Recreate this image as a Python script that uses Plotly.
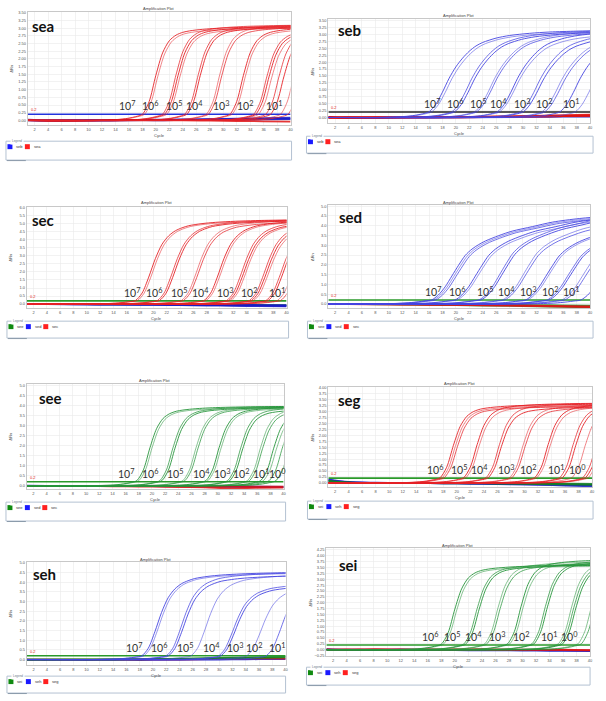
import plotly.graph_objects as go

W, H = 606, 701

# ---------------- data ----------------
CYCLE_RANGE = [1, 40]
THRESHOLD = 0.2

# normalised amplification shape (value / plateau) at cycle offsets from threshold crossing
PROFILE_OFFSETS = [-8, -6, -4, -3, -2, -1, 0, 1, 2, 3, 4, 5, 6, 7, 8, 10, 12, 15, 18, 22, 26, 30]
PROFILE_STEEP = [0.0, 0.003, 0.008, 0.014, 0.024, 0.04, 0.065, 0.2, 0.48, 0.72, 0.85, 0.91, 0.94, 0.955, 0.965, 0.978, 0.986, 0.993, 0.997, 1.0, 1.0, 1.0]
PROFILE_MEDIUM = [0.0, 0.003, 0.007, 0.011, 0.018, 0.028, 0.042, 0.13, 0.32, 0.54, 0.71, 0.81, 0.87, 0.905, 0.93, 0.955, 0.97, 0.983, 0.991, 0.997, 1.0, 1.0]
PROFILE_GENTLE = [0.0, 0.004, 0.01, 0.016, 0.026, 0.042, 0.065, 0.15, 0.29, 0.45, 0.58, 0.68, 0.76, 0.82, 0.86, 0.91, 0.94, 0.965, 0.98, 0.99, 0.997, 1.0]
PROFILE_SHALLOW = [0.0, 0.004, 0.01, 0.016, 0.024, 0.034, 0.045, 0.1, 0.19, 0.31, 0.43, 0.54, 0.61, 0.66, 0.7, 0.76, 0.81, 0.86, 0.91, 0.95, 0.975, 0.99]

NEG_CYCLES = [1, 4, 8, 12, 16, 20, 24, 28, 32, 36, 40]

# sea
SEA_CT = [18.0, 18.3, 21.0, 21.3, 21.6, 24.3, 24.6, 27.5, 27.8, 31.0, 31.3, 34.5, 34.8, 35.2, 36.3, 37.0, 38.5, 39.6]
SEA_PLAT = [3.05, 3.0, 3.1, 3.05, 3.0, 3.1, 3.05, 3.12, 3.05, 3.05, 3.0, 3.0, 2.95, 2.9, 3.0, 2.95, 3.0, 3.0]
SEA_LABELS = ["10<sup>7</sup>", "10<sup>6</sup>", "10<sup>5</sup>", "10<sup>4</sup>", "10<sup>3</sup>", "10<sup>2</sup>", "10<sup>1</sup>"]
SEA_LABEL_X = [15.7, 19.1, 22.7, 25.8, 29.7, 33.3, 37.5]
SEA_LEGEND = ["seb", "sea"]
SEA_NEG_SEB = [[0.02, 0.0, 0.01, 0.0, 0.01, 0.02, 0.03, 0.04, 0.06, 0.07, 0.09],
               [0.0, -0.01, 0.0, 0.0, 0.0, 0.01, 0.02, 0.03, 0.04, 0.05, 0.06],
               [0.01, 0.0, -0.01, 0.0, 0.01, 0.0, 0.01, 0.02, 0.02, 0.03, 0.04]]
SEA_NEG_SEA = [[0.0, -0.02, -0.02, -0.01, 0.0, 0.0, 0.0, -0.01, -0.02, -0.03, -0.04]]

# seb
SEB_CT = [16.0, 16.4, 19.4, 19.8, 22.8, 23.1, 26.2, 26.5, 29.6, 30.0, 32.8, 33.2, 35.5, 37.8]
SEB_PLAT = [3.15, 3.1, 3.15, 3.1, 3.15, 3.1, 3.15, 3.05, 3.1, 3.0, 3.05, 3.0, 3.1, 3.1]
SEB_LABELS = SEA_LABELS
SEB_LABEL_X = [16.4, 19.8, 23.3, 26.3, 29.8, 33.1, 37.1]
SEB_LEGEND = ["seb", "sea"]
SEB_NEG_SEB = [[0.0, 0.01, 0.0, 0.01, 0.0, 0.01, 0.01, 0.02, 0.02, 0.03, 0.03]]
SEB_NEG_SEA = [[0.0, 0.0, 0.0, 0.0, 0.01, 0.02, 0.03, 0.04, 0.05, 0.06, 0.08],
               [0.0, -0.01, 0.0, 0.01, 0.01, 0.02, 0.02, 0.03, 0.04, 0.05, 0.06],
               [0.01, 0.0, 0.0, 0.0, 0.0, 0.01, 0.02, 0.03, 0.06, 0.08, 0.1],
               [-0.01, 0.0, 0.0, 0.0, 0.01, 0.0, 0.01, 0.02, 0.03, 0.05, 0.07]]

# sec
SEC_CT = [17.3, 17.6, 20.6, 20.9, 24.2, 24.5, 27.6, 27.9, 31.0, 31.3, 31.6, 34.4, 34.7, 35.0, 36.9, 37.2, 38.6, 39.1]
SEC_PLAT = [5.25, 5.2, 5.25, 5.2, 5.25, 5.15, 5.25, 5.2, 5.25, 5.15, 5.1, 5.2, 5.1, 5.0, 5.2, 5.1, 5.2, 5.2]
SEC_LABELS = SEA_LABELS
SEC_LABEL_X = [16.8, 20.1, 23.9, 27.1, 30.8, 34.3, 38.5]
SEC_LEGEND = ["see", "sed", "sec"]
SEC_NEG_SED = [[0.0, 0.0, -0.02, -0.03, -0.04, -0.05, -0.07, -0.09, -0.11, -0.13, -0.15],
               [0.0, 0.0, -0.01, -0.02, -0.03, -0.04, -0.05, -0.06, -0.08, -0.1, -0.12],
               [0.0, 0.01, 0.0, -0.01, -0.02, -0.02, -0.03, -0.04, -0.05, -0.06, -0.07]]
SEC_NEG_SEE = [[0.0, 0.0, 0.0, -0.01, -0.01, -0.02, -0.02, -0.03, -0.04, -0.05, -0.06]]

# sed
SED_CT = [16.4, 16.7, 17.0, 19.9, 20.2, 23.5, 23.8, 27.0, 27.3, 30.4, 30.7, 33.6, 33.9, 35.8, 36.2, 38.6]
SED_PLAT = [4.6, 4.55, 4.5, 4.6, 4.5, 4.8, 4.7, 4.75, 4.6, 4.55, 4.5, 4.5, 4.45, 4.5, 4.4, 4.4]
SED_LABELS = SEA_LABELS
SED_LABEL_X = [16.6, 20.2, 24.3, 27.6, 30.7, 34.0, 37.2]
SED_LEGEND = ["see", "sed", "sec"]
SED_NEG_SEE = [[0.0, 0.0, -0.02, -0.03, -0.05, -0.06, -0.08, -0.1, -0.12, -0.15, -0.18],
               [0.0, 0.0, 0.0, -0.01, -0.02, -0.03, -0.04, -0.05, -0.06, -0.07, -0.09]]
SED_NEG_SEC = [[0.0, 0.0, -0.01, -0.02, -0.03, -0.04, -0.06, -0.07, -0.09, -0.11, -0.13],
               [0.0, -0.01, -0.02, -0.03, -0.04, -0.05, -0.07, -0.09, -0.11, -0.13, -0.16]]

# see
SEE_CT = [17.7, 18.0, 21.2, 21.5, 24.7, 25.0, 28.2, 28.5, 31.5, 31.8, 34.5, 34.8, 36.5, 36.9, 37.8, 38.8]
SEE_PLAT = [3.95, 3.9, 3.95, 3.9, 3.95, 3.9, 3.95, 3.9, 3.95, 3.85, 3.95, 3.85, 3.9, 3.8, 3.9, 3.8]
SEE_LABELS = SEA_LABELS + ["10<sup>0</sup>"]
SEE_LABEL_X = [16.1, 19.7, 23.5, 27.5, 30.6, 33.6, 36.5, 39.0]
SEE_LEGEND = ["see", "sed", "sec"]
SEE_NEG_SED = [[0.0, 0.0, -0.01, -0.01, -0.02, -0.02, -0.03, -0.04, -0.05, -0.06, -0.07],
               [0.01, 0.0, 0.0, -0.01, -0.01, -0.02, -0.02, -0.02, -0.03, -0.04, -0.05]]
SEE_NEG_SEC = [[0.0, 0.0, 0.0, -0.01, -0.01, -0.02, -0.02, -0.03, -0.03, -0.04, -0.04],
               [0.0, -0.01, -0.01, -0.02, -0.03, -0.04, -0.06, -0.08, -0.12, -0.1, -0.09]]

# seg
SEG_CT = [17.5, 17.8, 18.1, 21.0, 21.3, 24.3, 24.6, 27.8, 28.1, 31.5, 31.8, 35.2, 35.6, 37.0, 38.6, 39.0, 39.4]
SEG_PLAT = [3.3, 3.25, 3.2, 3.35, 3.25, 3.35, 3.2, 3.3, 3.2, 3.35, 3.25, 3.35, 3.3, 3.3, 3.3, 3.3, 3.3]
SEG_LABELS = ["10<sup>6</sup>", "10<sup>5</sup>", "10<sup>4</sup>", "10<sup>3</sup>", "10<sup>2</sup>", "10<sup>1</sup>", "10<sup>0</sup>"]
SEG_LABEL_X = [16.8, 20.3, 23.4, 27.2, 30.6, 34.7, 37.8]
SEG_LEGEND = ["sei", "seh", "seg"]
SEG_NEG_SEH = [[0.12, 0.03, 0.0, -0.01, -0.01, -0.02, -0.03, -0.04, -0.06, -0.08, -0.1],
               [0.15, 0.04, 0.01, 0.0, -0.01, -0.02, -0.04, -0.06, -0.08, -0.11, -0.14],
               [0.08, 0.02, 0.0, 0.0, -0.01, -0.01, -0.02, -0.03, -0.04, -0.05, -0.07]]
SEG_NEG_SEI = [[0.1, 0.02, 0.0, 0.0, 0.0, -0.01, -0.01, -0.02, -0.02, -0.03, -0.04],
               [0.06, 0.01, 0.0, -0.01, -0.01, -0.02, -0.02, -0.03, -0.05, -0.06, -0.08]]

# seh
SEH_CT = [18.3, 18.6, 22.0, 22.3, 25.7, 29.8, 30.1, 34.0, 37.0]
SEH_PLAT = [4.5, 4.45, 4.5, 4.35, 4.4, 3.95, 3.85, 3.9, 4.2]
SEH_LABELS = SEA_LABELS
SEH_LABEL_X = [17.1, 20.9, 24.9, 28.9, 32.4, 35.2, 38.7]
SEH_LEGEND = ["sei", "seh", "seg"]
SEH_NEG_SEI = [[0.0, 0.0, 0.0, 0.0, 0.01, 0.02, 0.03, 0.05, 0.07, 0.09, 0.12],
               [0.0, 0.0, 0.01, 0.01, 0.02, 0.03, 0.05, 0.07, 0.1, 0.13, 0.15]]
SEH_NEG_SEG = [[0.0, 0.0, 0.0, 0.0, 0.0, 0.01, 0.01, 0.03, 0.05, 0.06, 0.05]]
SEH_NEG_SEH = [[0.0, -0.01, -0.02, -0.02, -0.02, -0.02, -0.01, 0.0, 0.01, 0.02, 0.03]]

# sei
SEI_CT = [18.0, 18.3, 21.3, 21.6, 24.4, 24.7, 27.8, 28.1, 31.4, 31.7, 35.3, 35.6, 35.9, 38.2, 38.7]
SEI_PLAT = [3.6, 3.55, 3.65, 3.6, 3.75, 3.65, 3.85, 3.75, 3.85, 3.8, 3.85, 3.75, 3.7, 3.8, 3.8]
SEI_LABELS = SEG_LABELS
SEI_LABEL_X = [16.3, 19.6, 22.7, 26.2, 29.8, 33.9, 37.0]
SEI_LEGEND = ["sei", "seh", "seg"]
SEI_NEG_SEH = [[0.02, 0.0, 0.0, 0.01, 0.0, -0.01, -0.01, -0.02, -0.02, -0.03, -0.04],
               [0.0, -0.02, -0.01, -0.02, -0.01, -0.02, -0.03, -0.03, -0.04, -0.05, -0.06]]
SEI_NEG_SEG = [[0.0, 0.01, 0.0, 0.0, 0.01, 0.0, 0.0, -0.01, -0.01, 0.0, -0.02],
               [0.01, 0.0, 0.02, 0.01, 0.0, 0.01, 0.02, 0.01, 0.0, -0.02, -0.03]]

# ---------------- styling / layout ----------------
RED = (230, 35, 40)
BLUE = (70, 70, 225)
GREEN = (40, 150, 60)
REPLICATE_ALPHA = [0.9, 0.55, 0.75]
NEG_COL = {"red": "rgba(225,20,20,0.85)", "blue": "rgba(25,25,200,0.85)", "green": "rgba(20,130,30,0.85)"}
SQ_COL = {"red": "#ff2020", "blue": "#1a1aff", "green": "#108a10"}
PROFILES = {"steep": PROFILE_STEEP, "medium": PROFILE_MEDIUM, "gentle": PROFILE_GENTLE, "shallow": PROFILE_SHALLOW}

PANELS = [
    dict(tag="sea", ct=SEA_CT, plat=SEA_PLAT, labels=SEA_LABELS, lx=SEA_LABEL_X, legend=SEA_LEGEND,
         neg=[(SEA_NEG_SEB, "blue"), (SEA_NEG_SEA, "red")],
         plot=(28, 292, 10, 124), yr=(-0.16, 3.53), dtick=0.25, fmt=".2f", curve=RED, thr="#2233dd",
         profile="steep", box=(6, 293, 140, 159), lcols=["blue", "red"], title_y=7, tdx=2, tdy=14),
    dict(tag="seb", ct=SEB_CT, plat=SEB_PLAT, labels=SEB_LABELS, lx=SEB_LABEL_X, legend=SEB_LEGEND,
         neg=[(SEB_NEG_SEB, "blue"), (SEB_NEG_SEA, "red")],
         plot=(330, 593, 17, 122), yr=(-0.21, 3.56), dtick=0.25, fmt=".2f", curve=BLUE, thr="#202020",
         profile="gentle", box=(308, 596, 135, 152), lcols=["blue", "red"], title_y=14, tdx=8, tdy=11),
    dict(tag="sec", ct=SEC_CT, plat=SEC_PLAT, labels=SEC_LABELS, lx=SEC_LABEL_X, legend=SEC_LEGEND,
         neg=[(SEC_NEG_SEE, "green"), (SEC_NEG_SED, "blue")],
         plot=(27, 288, 206, 308), yr=(-0.26, 6.06), dtick=0.5, fmt=".1f", curve=RED, thr="#2a9a2a",
         profile="medium", box=(7, 290, 321, 338), lcols=["green", "blue", "red"], title_y=201.5, tdx=3, tdy=13),
    dict(tag="sed", ct=SED_CT, plat=SED_PLAT, labels=SED_LABELS, lx=SED_LABEL_X, legend=SED_LEGEND,
         neg=[(SED_NEG_SEE, "green"), (SED_NEG_SEC, "red")],
         plot=(330, 593, 204, 308), yr=(-0.22, 5.07), dtick=0.5, fmt=".1f", curve=BLUE, thr="#2a9a2a",
         profile="shallow", box=(309, 596, 321, 338), lcols=["green", "blue", "red"], title_y=201.5, tdx=9, tdy=12),
    dict(tag="see", ct=SEE_CT, plat=SEE_PLAT, labels=SEE_LABELS, lx=SEE_LABEL_X, legend=SEE_LEGEND,
         neg=[(SEE_NEG_SED, "blue"), (SEE_NEG_SEC, "red")],
         plot=(27, 285, 384, 490), yr=(-0.17, 5.08), dtick=0.5, fmt=".1f", curve=GREEN, thr="#2a9a2a",
         profile="steep", box=(6, 287, 503, 522), lcols=["green", "blue", "red"], title_y=381, tdx=10, tdy=14),
    dict(tag="seg", ct=SEG_CT, plat=SEG_PLAT, labels=SEG_LABELS, lx=SEG_LABEL_X, legend=SEG_LEGEND,
         neg=[(SEG_NEG_SEH, "blue"), (SEG_NEG_SEI, "green")],
         plot=(330, 595, 387, 488), yr=(-0.18, 4.04), dtick=0.25, fmt=".2f", curve=RED, thr="#2a9a2a",
         profile="steep", box=(309, 596, 502, 520), lcols=["green", "blue", "red"], title_y=384, tdx=8, tdy=13),
    dict(tag="seh", ct=SEH_CT, plat=SEH_PLAT, labels=SEH_LABELS, lx=SEH_LABEL_X, legend=SEH_LEGEND,
         neg=[(SEH_NEG_SEH, "blue"), (SEH_NEG_SEG, "red"), (SEH_NEG_SEI, "green")],
         plot=(27, 287, 563, 667), yr=(-0.29, 5.05), dtick=0.5, fmt=".1f", curve=BLUE, thr="#2a9a2a",
         profile="medium", box=(7, 287, 678, 695), lcols=["green", "blue", "red"], title_y=560.5, tdx=4, tdy=12),
    dict(tag="sei", ct=SEI_CT, plat=SEI_PLAT, labels=SEI_LABELS, lx=SEI_LABEL_X, legend=SEI_LEGEND,
         neg=[(SEI_NEG_SEH, "blue"), (SEI_NEG_SEG, "red")],
         plot=(328, 593, 549, 658), yr=(-0.28, 4.34), dtick=0.25, fmt=".2f", curve=GREEN, thr="#2a9a2a",
         profile="steep", box=(308, 593, 669, 687), lcols=["green", "blue", "red"], title_y=546.5, tdx=11, tdy=17),
]


def px(x):
    return x / W


def py(y):
    return 1 - y / H


fig = go.Figure()
annotations = []
shapes = []
layout_axes = {}
TICKFONT = dict(family="Liberation Sans", size=4, color="#555555")

for i, p in enumerate(PANELS):
    n = i + 1
    xa = "x" if n == 1 else f"x{n}"
    ya = "y" if n == 1 else f"y{n}"
    xk = "xaxis" if n == 1 else f"xaxis{n}"
    yk = "yaxis" if n == 1 else f"yaxis{n}"
    x0, x1, y0, y1 = p["plot"]
    layout_axes[xk] = dict(domain=[px(x0), px(x1)], anchor=ya, range=CYCLE_RANGE, tick0=2, dtick=2,
                           showgrid=True, gridcolor="#e9e9e9", gridwidth=0.6, zeroline=False,
                           showline=True, linecolor="#c8c8c8", linewidth=1, mirror=True,
                           ticks="", tickfont=TICKFONT, fixedrange=True)
    layout_axes[yk] = dict(domain=[py(y1), py(y0)], anchor=xa, range=list(p["yr"]), tick0=0, dtick=p["dtick"],
                           tickformat=p["fmt"], showgrid=True, gridcolor="#e9e9e9", gridwidth=0.6,
                           zeroline=False, showline=True, linecolor="#c8c8c8", linewidth=1, mirror=True,
                           ticks="", tickfont=TICKFONT, fixedrange=True)

    # negative controls / baseline noise
    for series_list, col in p["neg"]:
        for vals in series_list:
            fig.add_trace(go.Scatter(x=NEG_CYCLES, y=vals, mode="lines", xaxis=xa, yaxis=ya,
                                     line=dict(color=NEG_COL[col], width=1.8, shape="spline"),
                                     hoverinfo="skip"))

    # threshold
    fig.add_trace(go.Scatter(x=CYCLE_RANGE, y=[THRESHOLD, THRESHOLD], mode="lines", xaxis=xa, yaxis=ya,
                             line=dict(color=p["thr"], width=1.6), hoverinfo="skip"))

    # amplification curves
    prof = PROFILES[p["profile"]]
    r, g, b = p["curve"]
    for k, (ct, pl) in enumerate(zip(p["ct"], p["plat"])):
        xs = [CYCLE_RANGE[0]] + [ct + o for o in PROFILE_OFFSETS]
        ys = [0.0] + [pl * v for v in prof]
        a = REPLICATE_ALPHA[k % len(REPLICATE_ALPHA)]
        fig.add_trace(go.Scatter(x=xs, y=ys, mode="lines", xaxis=xa, yaxis=ya,
                                 line=dict(color=f"rgba({r},{g},{b},{a})", width=1, shape="spline", smoothing=0.8),
                                 hoverinfo="skip"))

    # dilution labels
    for lab, lx in zip(p["labels"], p["lx"]):
        annotations.append(dict(x=lx, y=THRESHOLD, xref=xa, yref=ya, text=lab, showarrow=False,
                                xanchor="center", yanchor="bottom",
                                font=dict(family="Lato", size=10.5, color="#333333")))

    # threshold value label
    annotations.append(dict(x=px(x0 + 1), y=THRESHOLD, xref="paper", yref=ya, text=str(THRESHOLD),
                            showarrow=False, xanchor="left", yanchor="bottom",
                            font=dict(family="Liberation Sans", size=4, color="#e02020")))

    # panel tag
    annotations.append(dict(x=px(x0 + p["tdx"]), y=py(y0 + p["tdy"]), xref="paper", yref="paper",
                            text=f"<b>{p['tag']}</b>", showarrow=False, xanchor="left", yanchor="middle",
                            font=dict(family="Lato", size=15, color="#111111")))

    # title, axis titles
    annotations.append(dict(x=px((x0 + x1) / 2), y=py(p["title_y"]), xref="paper", yref="paper",
                            text="Amplification Plot", showarrow=False, xanchor="center", yanchor="middle",
                            font=dict(family="Liberation Sans", size=4, color="#444444")))
    annotations.append(dict(x=px((x0 + x1) / 2), y=py(y1 + 10), xref="paper", yref="paper",
                            text="Cycle", showarrow=False, xanchor="center", yanchor="middle",
                            font=dict(family="Liberation Sans", size=4, color="#444444")))
    annotations.append(dict(x=px(x0 - 16), y=py((y0 + y1) / 2), xref="paper", yref="paper",
                            text="ΔRn", showarrow=False, xanchor="center", yanchor="middle", textangle=-90,
                            font=dict(family="Liberation Sans", size=4, color="#444444")))

    # legend box
    bx0, bx1, by0, by1 = p["box"]
    shapes.append(dict(type="rect", xref="paper", yref="paper", x0=px(bx0), x1=px(bx1), y0=py(by1), y1=py(by0),
                       line=dict(color="#b4c2d2", width=1), fillcolor="white", layer="below"))
    shapes.append(dict(type="line", xref="paper", yref="paper", x0=px(bx0 + 1), x1=px(bx0 + 20),
                       y0=py(by1 + 0.5), y1=py(by1 + 0.5), line=dict(color="#8a9aaa", width=1)))
    annotations.append(dict(x=px(bx0 + 4), y=py(by0), xref="paper", yref="paper", text="Legend",
                            showarrow=False, xanchor="left", yanchor="middle", bgcolor="white",
                            font=dict(family="Liberation Sans", size=3, color="#6a7a8a")))
    cy = by0 + 5.5
    for j, (name, col) in enumerate(zip(p["legend"], p["lcols"])):
        sx = bx0 + 1.5 + j * 17.5
        shapes.append(dict(type="rect", xref="paper", yref="paper", x0=px(sx), x1=px(sx + 5),
                           y0=py(cy + 2.5), y1=py(cy - 2.5), line=dict(width=0), fillcolor=SQ_COL[col]))
        annotations.append(dict(x=px(sx + 7), y=py(cy), xref="paper", yref="paper", text=name,
                                showarrow=False, xanchor="left", yanchor="middle",
                                font=dict(family="Liberation Sans", size=4, color="#333333")))

fig.update_layout(width=W, height=H, margin=dict(l=0, r=0, t=0, b=0), showlegend=False,
                  paper_bgcolor="white", plot_bgcolor="white", annotations=annotations, shapes=shapes,
                  hovermode=False, **layout_axes)

fig.write_html("out.html", config={"displayModeBar": False, "staticPlot": True},
               post_script="document.body.style.margin='0px';document.body.style.padding='0px';")
